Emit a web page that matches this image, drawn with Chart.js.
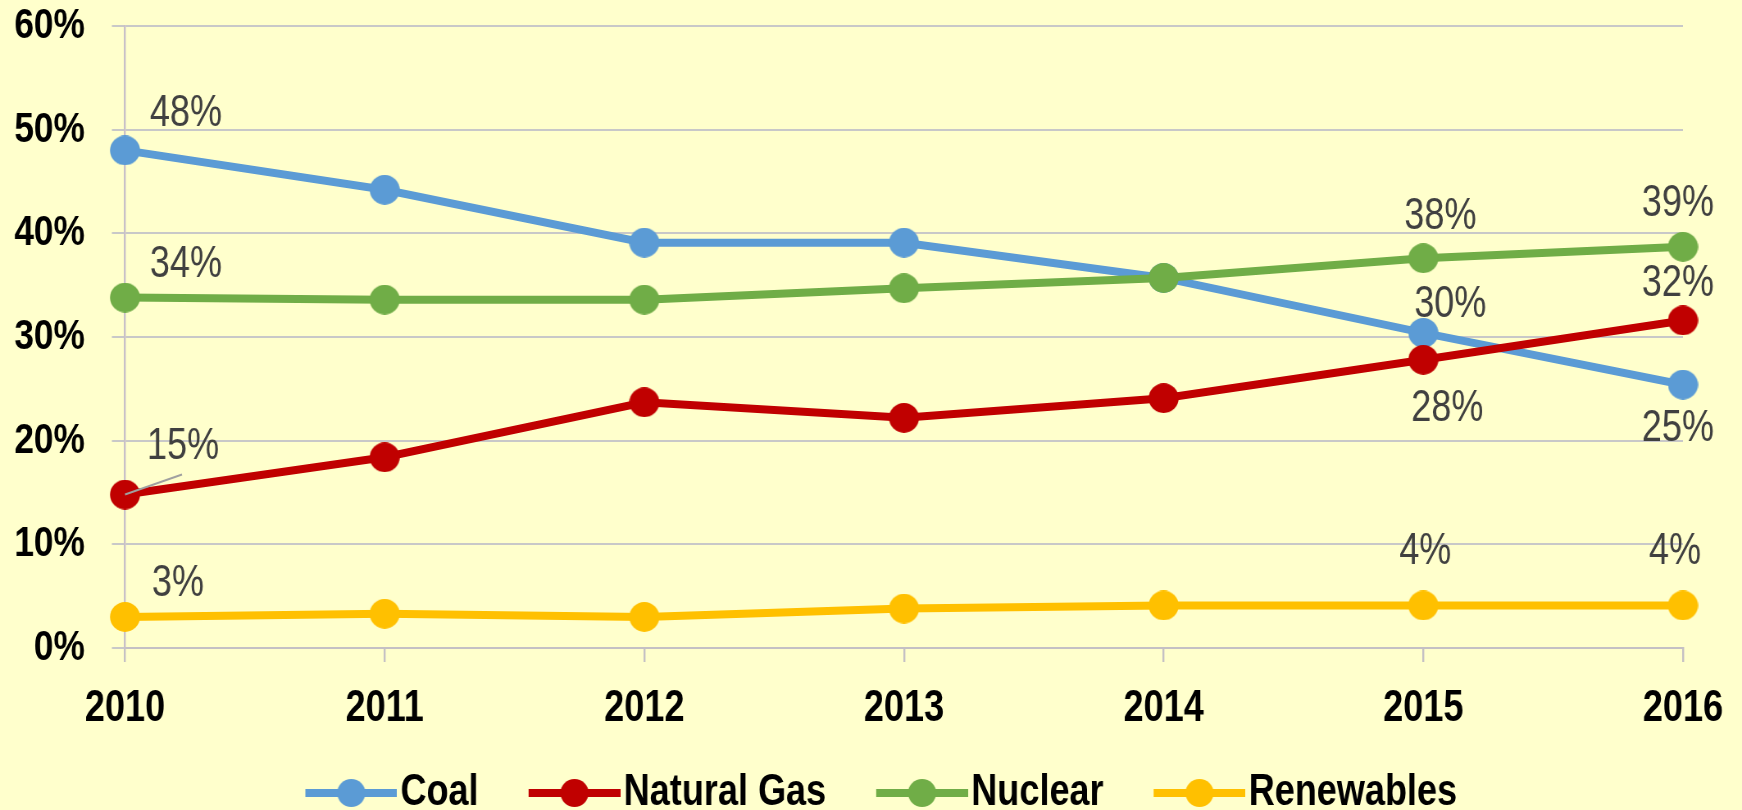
<!DOCTYPE html>
<html>
<head>
<meta charset="utf-8">
<script src="https://cdn.jsdelivr.net/npm/chart.js@4.4.1/dist/chart.umd.min.js"></script>
<style>
  html, body { margin: 0; padding: 0; background: #ffffcc; overflow: hidden; }
  #wrap { width: 1742px; height: 810px; position: relative; overflow: hidden; }
  /* the reference uses a narrow face; draw wide and squeeze horizontally */
  #chart { position: absolute; left: 0; top: 0; transform-origin: 0 0; }
</style>
</head>
<body>
<div id="wrap"><canvas id="chart" width="2125" height="810"></canvas></div>
<script>
// data
const years = ["2010", "2011", "2012", "2013", "2014", "2015", "2016"];
const coal = [48.0, 44.2, 39.1, 39.1, 35.7, 30.4, 25.4];
const naturalGas = [14.8, 18.4, 23.7, 22.2, 24.1, 27.8, 31.6];
const nuclear = [33.8, 33.6, 33.6, 34.7, 35.7, 37.6, 38.7];
const renewables = [3.0, 3.3, 3.0, 3.8, 4.1, 4.1, 4.1];
const yTicks = [0, 10, 20, 30, 40, 50, 60];

const W = 1742, H = 810, CW = 2125;
const K = CW / W; // horizontal stretch of the drawing canvas
const FONT = "'Liberation Sans', Arial, sans-serif";

document.getElementById("chart").style.transform = "scaleX(" + (W / CW) + ")";

// which points get a value label, and where the label sits (screen px) relative to the point
const labelSpots = [
  { ds: 0, i: 0, dx: 61, dy: -39 },
  { ds: 0, i: 5, dx: 27, dy: -30 },
  { ds: 0, i: 6, dx: -5, dy: 42 },
  { ds: 1, i: 0, dx: 58, dy: -50, leader: true },
  { ds: 1, i: 5, dx: 24, dy: 47 },
  { ds: 1, i: 6, dx: -5, dy: -39 },
  { ds: 2, i: 0, dx: 61, dy: -35 },
  { ds: 2, i: 5, dx: 17, dy: -43 },
  { ds: 2, i: 6, dx: -5, dy: -45 },
  { ds: 3, i: 0, dx: 53, dy: -35 },
  { ds: 3, i: 5, dx: 2, dy: -56 },
  { ds: 3, i: 6, dx: -8, dy: -56 },
];

function dot(color) {
  const c = document.createElement("canvas");
  c.width = Math.round(30 * K);
  c.height = 30;
  const g = c.getContext("2d");
  g.fillStyle = color;
  g.beginPath();
  g.ellipse(c.width / 2, 15, 15 * K, 15, 0, 0, Math.PI * 2);
  g.fill();
  return c;
}

// line + marker, drawn in the right part of a 161px wide image
function legendSymbol(color) {
  const c = document.createElement("canvas");
  c.width = 161;
  c.height = 32;
  const g = c.getContext("2d");
  g.strokeStyle = color;
  g.lineWidth = 8;
  g.beginPath();
  g.moveTo(49, 16);
  g.lineTo(161, 16);
  g.stroke();
  g.fillStyle = color;
  g.beginPath();
  g.ellipse(105, 16, 14 * K, 14, 0, 0, Math.PI * 2);
  g.fill();
  return c;
}

const bgPlugin = {
  id: "bg",
  beforeDraw(chart) {
    const ctx = chart.ctx;
    ctx.save();
    ctx.fillStyle = "#ffffcc";
    ctx.fillRect(0, 0, chart.width, chart.height);
    ctx.restore();
  },
};

const valueLabels = {
  id: "valueLabels",
  afterDatasetsDraw(chart) {
    const ctx = chart.ctx;
    ctx.save();
    ctx.font = "44px " + FONT;
    ctx.fillStyle = "#404040";
    ctx.textAlign = "center";
    ctx.textBaseline = "middle";
    labelSpots.forEach((s) => {
      const pt = chart.getDatasetMeta(s.ds).data[s.i];
      const v = chart.data.datasets[s.ds].data[s.i];
      if (s.leader) {
        ctx.strokeStyle = "#a0a0a0";
        ctx.lineWidth = 2;
        ctx.beginPath();
        ctx.moveTo(pt.x, pt.y);
        ctx.lineTo(pt.x + 57 * K, pt.y - 20);
        ctx.stroke();
      }
      ctx.fillText(Math.round(v) + "%", pt.x + s.dx * K, pt.y + s.dy + 2);
    });
    ctx.restore();
  },
};

function series(label, data, color, order) {
  return {
    label: label,
    data: data,
    order: order,
    borderColor: color,
    backgroundColor: color,
    borderWidth: 8,
    tension: 0,
    pointStyle: dot(color),
    pointRadius: 15,
    pointHoverRadius: 15,
  };
}

const ctx = document.getElementById("chart").getContext("2d");
new Chart(ctx, {
  type: "line",
  data: {
    labels: years,
    datasets: [
      series("Coal", coal, "#5b9bd5", 3),
      series("Natural Gas", naturalGas, "#c00000", 2),
      series("Nuclear", nuclear, "#70ad47", 1),
      series("Renewables", renewables, "#ffc000", 0),
    ],
  },
  options: {
    responsive: false,
    animation: false,
    layout: {
      autoPadding: false,
      padding: { top: 26, right: 6, bottom: -15, left: 0 },
    },
    plugins: {
      tooltip: { enabled: false },
      legend: {
        position: "bottom",
        labels: {
          usePointStyle: true,
          pointStyleWidth: 125,
          padding: 30,
          color: "#000",
          font: { family: FONT, size: 44, weight: "bold" },
          sort: (a, b) => a.datasetIndex - b.datasetIndex,
          generateLabels(chart) {
            const items = Chart.defaults.plugins.legend.labels.generateLabels(chart);
            items.forEach((it) => {
              it.pointStyle = legendSymbol(chart.data.datasets[it.datasetIndex].borderColor);
            });
            return items;
          },
        },
      },
    },
    scales: {
      x: {
        offset: false,
        grid: {
          drawOnChartArea: false,
          drawTicks: true,
          tickLength: 14,
          color: "#c4c0c4",
          lineWidth: 2.4,
        },
        border: { display: true, color: "#c4c0c4", width: 2 },
        ticks: {
          color: "#000",
          padding: 20,
          maxRotation: 0,
          font: { family: FONT, size: 44, weight: "bold" },
        },
        afterFit(scale) {
          scale.height = 93;
          scale.paddingLeft = 0;
          scale.paddingRight = 0;
        },
      },
      y: {
        min: 0,
        max: 60,
        afterBuildTicks(scale) {
          scale.ticks = yTicks.map((v) => ({ value: v }));
        },
        grid: {
          color: "#c8c8c8",
          lineWidth: 2,
          tickLength: Math.round(13 * K),
        },
        border: { display: true, color: "#c8c0c8", width: 2.4 },
        ticks: {
          color: "#000",
          padding: Math.round(27 * K),
          callback: (v) => v + "%",
          font: { family: FONT, size: 43, weight: "bold" },
        },
        afterFit(scale) {
          scale.width = 125 * K;
          scale.paddingTop = 0;
          scale.paddingBottom = 0;
        },
      },
      // empty right gutter so the plot ends at 2016 while the legend stays centred as in the picture
      gutter: {
        type: "linear",
        position: "right",
        display: true,
        grid: { display: false },
        border: { display: false },
        ticks: { display: false },
        afterFit(scale) {
          scale.width = 66;
          scale.paddingTop = 0;
          scale.paddingBottom = 0;
        },
      },
    },
  },
  plugins: [bgPlugin, valueLabels],
});
</script>
</body>
</html>
